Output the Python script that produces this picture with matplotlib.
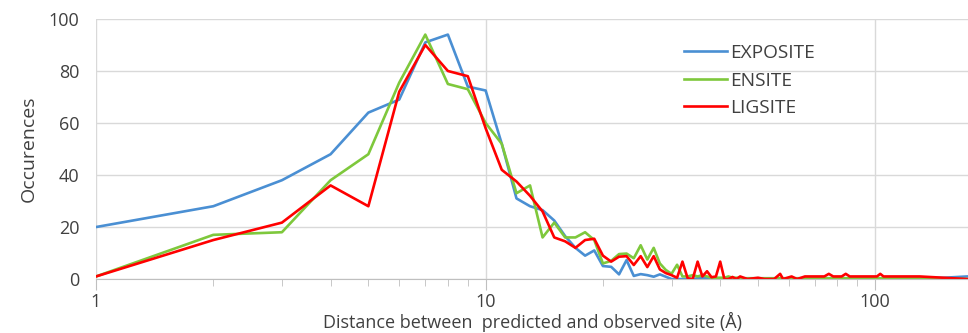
import numpy as np
import matplotlib.pyplot as plt
from matplotlib.ticker import FixedLocator, NullFormatter

# distances (Å)
dist = list(range(1, 46)) + [47, 50, 52, 55, 57, 58, 61, 63, 66, 70, 74, 76, 78,
                             82, 84, 86, 95, 101, 103, 105, 130, 150, 172]

exposite = [20, 28, 38, 48, 64, 69, 91, 94, 74, 72.5,
            52, 31, 28, 26.5, 22.5, 16.5, 12, 9, 11, 5,
            4.7, 1.8, 7.3, 1.2, 1.9, 1.5, 0.9, 1.8, 0.9, 0,
            0, 0, 0, 0, 0.3, 0.3, 0.3, 0.3, 0.3, 0.3,
            0.3, 0.3, 0.3, 0.3, 0.3,
            0.3, 0.3, 0.3, 0.3, 0.3, 0.3, 0.3, 0.3, 0.3, 0.3, 0.3, 0.3, 0.3,
            0.3, 0.3, 0.3, 0.3, 0.3, 0.3, 0.3, 0.3, 0.5, 1]

ensite = [1, 17, 18, 38, 48, 75.5, 94, 75, 73, 60,
          52, 33, 36, 16, 21.7, 16, 16, 18, 15, 6,
          7, 9.6, 9.8, 8, 13, 7.5, 12, 6, 3.5, 2,
          5.5, 1, 1, 1.5, 1, 1.5, 1, 0.5, 0.5, 0.5,
          0.5, 1, 0.5, 0.5, 0.3,
          0.3, 0.3, 0.3, 0.3, 0.3, 0.3, 0.3, 0.3, 0.3, 0.3, 0.3, 0.3, 0.3,
          0.3, 0.3, 0.3, 0.3, 0.3, 0.3, 0.3, 0.3, 0.2, 0]

ligsite = [1, 15, 21.7, 36, 28, 72, 90, 80, 78, 58,
           42, 37.5, 32, 26, 16, 14.5, 12, 15, 15.5, 9,
           6.7, 8.6, 8.8, 5.4, 8.8, 4.6, 8.8, 3.7, 2.3, 1.5,
           0.5, 6.7, 0.3, 0, 6.7, 1, 3, 0.7, 1, 6.7,
           0, 0, 0.8, 0, 1,
           0, 0.5, 0, 0, 2, 0, 1, 0, 1, 1, 1, 2, 1,
           1, 2, 1, 1, 1, 2, 1, 1, 0.5, 0]

plt.rcParams['font.family'] = ['Open Sans', 'DejaVu Sans']

fig = plt.figure(figsize=(9.68, 3.33), dpi=100)
ax = fig.add_axes([0.0992, 0.162, 0.9008, 0.781])

ax.plot(dist, exposite, color='#4a8fd3', lw=1.9, label='EXPOSITE')
ax.plot(dist, ensite, color='#7ec83c', lw=1.9, label='ENSITE')
ax.plot(dist, ligsite, color='#ff0000', lw=1.9, label='LIGSITE')

ax.set_xscale('log')
ax.set_xlim(1, 173)
ax.set_ylim(0, 100)
ax.set_yticks([0, 20, 40, 60, 80, 100])
ax.xaxis.set_major_locator(FixedLocator([1, 10, 100]))
ax.set_xticklabels(['1', '10', '100'])
minors = [m * d for d in (1, 10, 100) for m in range(2, 10) if m * d <= 173]
ax.xaxis.set_minor_locator(FixedLocator(minors))
ax.xaxis.set_minor_formatter(NullFormatter())

ax.grid(True, which='major', color='#d9d9d9', lw=1)
ax.set_axisbelow(True)
for s in ['top', 'right', 'left']:
    ax.spines[s].set_visible(False)
ax.spines['bottom'].set_color('#bfbfbf')
ax.tick_params(axis='y', length=0, labelsize=13, colors='#404040', pad=12)
ax.tick_params(axis='x', which='major', length=8, color='#bfbfbf',
               labelsize=13, labelcolor='#404040', pad=2)
ax.tick_params(axis='x', which='minor', length=5, color='#bfbfbf')

ax.set_ylabel('Occurences', fontsize=14, color='#404040', labelpad=8)
ax.set_xlabel('Distance between  predicted and observed site (Å)',
              fontsize=13, color='#404040', labelpad=1)

ax.legend(loc='upper left', bbox_to_anchor=(0.655, 0.97), frameon=False,
          fontsize=13.8, handlelength=2.2, handletextpad=0.2, labelspacing=0.5,
          labelcolor='#404040')

fig.savefig('out.png', dpi=100)
